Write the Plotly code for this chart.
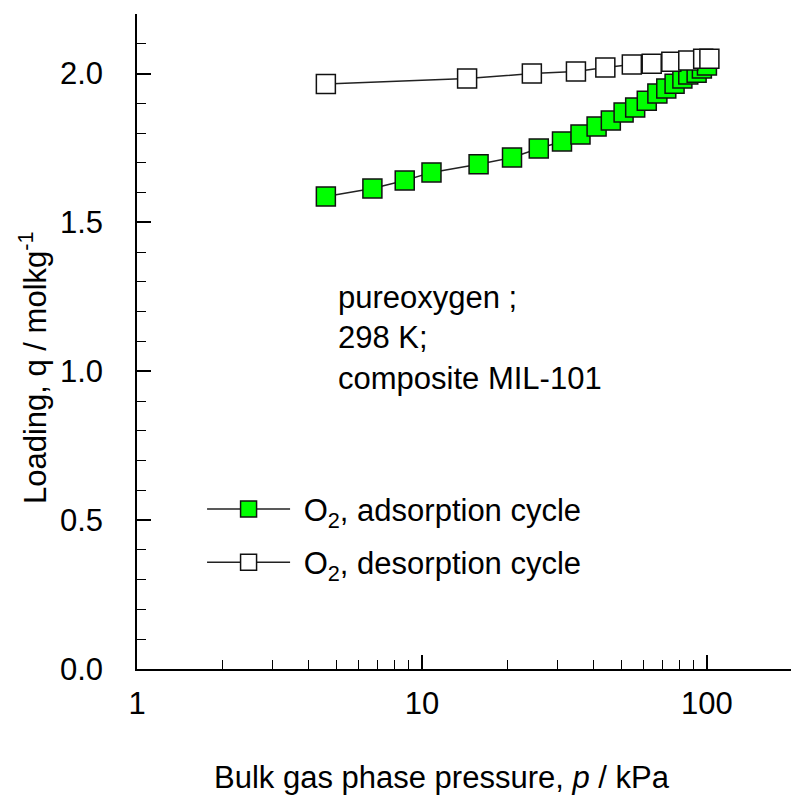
import plotly.graph_objects as go

# Adsorption cycle (pressure kPa, loading mol/kg)
ads_p = [4.6, 6.7, 8.7, 10.8, 15.8, 20.7, 25.7, 31, 36, 41, 46, 51, 56, 61.5, 67, 72, 77, 82, 86, 92, 96, 100]
ads_q = [1.587, 1.614, 1.641, 1.668, 1.695, 1.718, 1.748, 1.772, 1.795, 1.822, 1.842, 1.869, 1.886, 1.909,
         1.933, 1.950, 1.966, 1.983, 1.997, 2.003, 2.017, 2.027]

# Desorption cycle
des_p = [4.6, 14.4, 24.3, 34.7, 44, 54.5, 64, 75, 86, 97, 102]
des_q = [1.965, 1.983, 2.0, 2.007, 2.02, 2.03, 2.033, 2.04, 2.044, 2.05, 2.05]

x_ticks = [1, 10, 100]
x_minor = [2, 3, 4, 5, 6, 7, 8, 9, 20, 30, 40, 50, 60, 70, 80, 90]
y_ticks = [0.0, 0.5, 1.0, 1.5, 2.0]

FONT = "Liberation Sans, Arial, sans-serif"
FS = 31

fig = go.Figure()
fig.add_trace(go.Scatter(
    x=ads_p, y=ads_q, mode="lines+markers",
    name="&nbsp;O<sub>2</sub>, adsorption cycle", legendgroup="a",
    line=dict(color="#222222", width=1.5),
    marker=dict(symbol="square", size=19, color="#00ff00", line=dict(color="#111111", width=1.5)),
))
fig.add_trace(go.Scatter(
    x=des_p, y=des_q, mode="lines+markers",
    name="&nbsp;O<sub>2</sub>, desorption cycle", legendgroup="b",
    line=dict(color="#222222", width=1.5),
    marker=dict(symbol="square", size=19, color="#ffffff", line=dict(color="#111111", width=1.5)),
))

fig.update_layout(
    width=791, height=800,
    margin=dict(l=137, r=0, t=14, b=131),
    paper_bgcolor="white", plot_bgcolor="white",
    font=dict(family=FONT, size=FS, color="black"),
    showlegend=True,
    legend=dict(x=0.0995, y=0.285, xanchor="left", yanchor="top",
                bgcolor="rgba(0,0,0,0)", font=dict(size=FS), tracegroupgap=10,
                itemsizing="trace", itemwidth=83),
    xaxis=dict(type="log", range=[0, 2.295], tickvals=x_ticks, ticktext=[str(v) for v in x_ticks],
               ticks="inside", ticklen=14, tickwidth=1.5, tickcolor="black",
               showline=True, linecolor="black", linewidth=1.5, showgrid=False, zeroline=False,
               tickfont=dict(size=FS), ticklabelstandoff=6,
               minor=dict(tickvals=x_minor, ticks="inside", ticklen=9, tickwidth=1.2, tickcolor="black",
                          showgrid=False)),
    yaxis=dict(range=[0, 2.2], tickvals=y_ticks, ticktext=[f"{v:.1f}" for v in y_ticks],
               ticks="inside", ticklen=14, tickwidth=1.5, tickcolor="black",
               showline=True, linecolor="black", linewidth=1.5, showgrid=False, zeroline=False,
               tickfont=dict(size=FS), ticklabelstandoff=26,
               minor=dict(dtick=0.1, tick0=0, ticks="inside", ticklen=9, tickwidth=1.2, tickcolor="black",
                          showgrid=False)),
    annotations=[
        dict(text="pureoxygen ;<br>298 K;<br>composite MIL-101", xref="paper", yref="paper",
             x=0.305, y=0.597, xanchor="left", yanchor="top", align="left", showarrow=False,
             font=dict(size=FS)),
        dict(text="Loading, q / molkg<sup>-1</sup>", xref="paper", yref="paper",
             x=-0.16, y=0.46, xanchor="center", yanchor="middle", textangle=-90, showarrow=False,
             font=dict(size=FS)),
        dict(text="Bulk gas phase pressure, <i>p</i> / kPa", xref="paper", yref="paper",
             x=0.466, y=-0.165, xanchor="center", yanchor="middle", showarrow=False,
             font=dict(size=FS)),
    ],
)

fig.write_html("out.html")
